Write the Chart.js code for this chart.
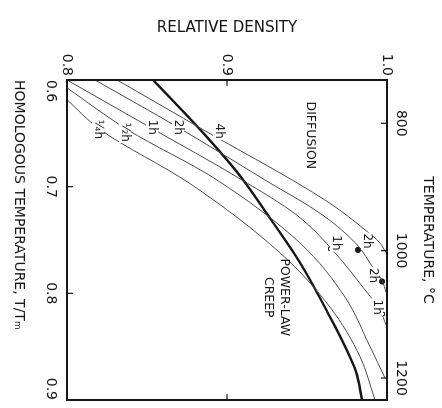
<!DOCTYPE html>
<html>
<head>
<meta charset="utf-8">
<script src="https://cdn.jsdelivr.net/npm/chart.js@4.4.1/dist/chart.umd.min.js"></script>
<style>
  html, body { margin: 0; padding: 0; background: #fff; overflow: hidden; }
  /* the figure is printed turned a quarter turn clockwise */
  #wrap {
    position: absolute; left: 0; top: 0;
    width: 408px; height: 442px;
    transform-origin: 0 0;
    transform: translateX(442px) rotate(90deg);
  }
</style>
</head>
<body>
<div id="wrap"><canvas id="chart" width="408" height="442"></canvas></div>
<script>
// axes
const homTicks = [0.6, 0.7, 0.8, 0.9];
const densityTicks = [0.8, 0.9, 1.0];
const tempTicks = [800, 1000, 1200];
const TM = 1675; // melting point, K

// diffusion curves (homologous temperature -> relative density)
const quarterT = [0.6185, 0.6463, 0.6972, 0.762, 0.813, 0.8593, 0.9];
const quarterD = [0.800, 0.8206, 0.8769, 0.9331, 0.9644, 0.9831, 0.9925];
const halfT = [0.6074, 0.6463, 0.6926, 0.7528, 0.8037, 0.85, 0.8796];
const halfD = [0.800, 0.8375, 0.8925, 0.9456, 0.9738, 0.9894, 0.9988];
const oneT = [0.600, 0.6444, 0.6926, 0.7269, 0.762, 0.7944, 0.8158, 0.8296];
const oneD = [0.800, 0.8519, 0.9081, 0.9438, 0.9675, 0.985, 0.9956, 0.9994];
const twoT = [0.600, 0.6444, 0.6926, 0.7269, 0.7546, 0.776, 0.788, 0.799];
const twoD = [0.8175, 0.8694, 0.9225, 0.960, 0.9813, 0.9913, 0.9969, 0.9994];
const fourT = [0.600, 0.626, 0.6556, 0.6926, 0.7176, 0.7389, 0.7528, 0.762];
const fourD = [0.8313, 0.8613, 0.8956, 0.9394, 0.9663, 0.985, 0.9956, 0.9994];

// power-law creep boundary
const creepT = [0.600, 0.6463, 0.6898, 0.7296, 0.7713, 0.8222, 0.850, 0.8732, 0.900];
const creepD = [0.8538, 0.8831, 0.9081, 0.9269, 0.9456, 0.9644, 0.9738, 0.9806, 0.9844];

// measured points
const pts2hT = [0.7593, 0.7889];
const pts2hD = [0.9819, 0.9969];
const pts1hT = [0.7583, 0.8194];
const pts1hD = [0.9644, 0.9975];

// text on the plot, placed in data units
const curveLabels = [
    { text: '¼h', t: 0.6463, d: 0.8194 },
    { text: '½h', t: 0.6490, d: 0.8363 },
    { text: '1h', t: 0.6444, d: 0.8531 },
    { text: '2h', t: 0.6444, d: 0.8694 },
    { text: '4h', t: 0.6480, d: 0.8950 },
    { text: '2h', t: 0.7510, d: 0.9875 },
    { text: '1h', t: 0.7528, d: 0.9681 },
    { text: '2h', t: 0.7833, d: 0.9913 },
    { text: '1h', t: 0.8130, d: 0.9938 }
];
const regionLabels = [
    { text: 'DIFFUSION', t: 0.6519, d: 0.9519 },
    { text: 'POWER-LAW', t: 0.8037, d: 0.9356 },
    { text: 'CREEP', t: 0.8037, d: 0.9256 }
];

const FONT = 'DejaVu Sans';
const INK = '#161616';

function toPoints(ts, ds) {
    return ts.map((t, i) => ({ x: t, y: ds[i] }));
}

function curve(ts, ds, width, color) {
    return {
        type: 'line',
        data: toPoints(ts, ds),
        borderColor: color,
        borderWidth: width,
        pointRadius: 0,
        fill: false,
        cubicInterpolationMode: 'monotone'
    };
}

// рамка, засечки внутрь и подписи на поле
const annot = {
    id: 'annot',
    afterDatasetsDraw(chart) {
        const { ctx, chartArea: a, scales } = chart;
        const sx = scales.x, sy = scales.y, st = scales.x2;
        ctx.save();

        ctx.textAlign = 'center';
        ctx.textBaseline = 'middle';
        ctx.font = '12px "' + FONT + '"';
        curveLabels.forEach(l => {
            const px = sx.getPixelForValue(l.t), py = sy.getPixelForValue(l.d);
            const w = ctx.measureText(l.text).width;
            ctx.fillStyle = '#fff';
            ctx.fillRect(px - w / 2 - 1, py - 6, w + 2, 12);
            ctx.fillStyle = INK;
            ctx.fillText(l.text, px, py);
        });

        ctx.font = '12.5px "' + FONT + '"';
        regionLabels.forEach(l => {
            ctx.fillStyle = INK;
            ctx.fillText(l.text, sx.getPixelForValue(l.t), sy.getPixelForValue(l.d));
        });

        ctx.strokeStyle = INK;
        ctx.lineWidth = 2;
        ctx.strokeRect(a.left, a.top, a.right - a.left, a.bottom - a.top);

        ctx.lineWidth = 1.2;
        const tick = (x1, y1, x2, y2) => {
            ctx.beginPath();
            ctx.moveTo(x1, y1);
            ctx.lineTo(x2, y2);
            ctx.stroke();
        };
        homTicks.slice(1, -1).forEach(v => {
            const px = sx.getPixelForValue(v);
            tick(px, a.bottom, px, a.bottom - 6);
        });
        densityTicks.slice(1, -1).forEach(v => {
            const py = sy.getPixelForValue(v);
            tick(a.left, py, a.left + 6, py);
            tick(a.right, py, a.right - 6, py);
        });
        tempTicks.forEach(v => {
            const px = st.getPixelForValue(v);
            tick(px, a.top, px, a.top + 6);
        });
        ctx.restore();
    }
};

const tickFont = { family: FONT, size: 14 };
const titleFont = { family: FONT, size: 14 };

new Chart(document.getElementById('chart'), {
    data: {
        datasets: [
            curve(quarterT, quarterD, 1, '#4a4a4a'),
            curve(halfT, halfD, 1, '#4a4a4a'),
            curve(oneT, oneD, 1, '#4a4a4a'),
            curve(twoT, twoD, 1, '#4a4a4a'),
            curve(fourT, fourD, 1, '#4a4a4a'),
            curve(creepT, creepD, 2.4, INK),
            {
                type: 'scatter',
                data: toPoints(pts2hT, pts2hD),
                pointStyle: 'circle',
                pointRadius: 2.6,
                backgroundColor: INK,
                borderColor: INK
            },
            {
                type: 'scatter',
                data: toPoints(pts1hT, pts1hD),
                pointStyle: 'rect',
                pointRadius: 2.2,
                borderWidth: 1,
                backgroundColor: '#fff',
                borderColor: INK
            }
        ]
    },
    options: {
        responsive: false,
        animation: false,
        layout: { padding: { right: 4 } },
        plugins: {
            legend: { display: false },
            tooltip: { enabled: false }
        },
        scales: {
            x: {
                type: 'linear',
                position: 'bottom',
                min: 0.6,
                max: 0.9,
                afterBuildTicks: s => { s.ticks = homTicks.map(v => ({ value: v })); },
                afterFit: s => { s.height = 67; },
                grid: { display: false, drawTicks: false },
                border: { display: false },
                ticks: {
                    align: 'inner',
                    padding: 8,
                    color: INK,
                    font: tickFont,
                    callback: v => v.toFixed(1)
                },
                title: {
                    display: true,
                    align: 'start',
                    text: 'HOMOLOGOUS TEMPERATURE, T/Tₘ',
                    color: INK,
                    font: titleFont,
                    padding: { top: 0, bottom: 10 }
                }
            },
            y: {
                type: 'linear',
                position: 'left',
                min: 0.8,
                max: 1.0,
                afterBuildTicks: s => { s.ticks = densityTicks.map(v => ({ value: v })); },
                afterFit: s => { s.width = 80; },
                grid: { display: false, drawTicks: false },
                border: { display: false },
                ticks: {
                    padding: 4,
                    color: INK,
                    font: tickFont,
                    callback: v => v.toFixed(1)
                },
                title: {
                    display: true,
                    text: 'RELATIVE DENSITY',
                    color: INK,
                    font: { family: FONT, size: 15 },
                    padding: { top: 19, bottom: 0 }
                }
            },
            x2: {
                type: 'linear',
                position: 'top',
                min: 0.6 * TM - 273,
                max: 0.9 * TM - 273,
                afterBuildTicks: s => { s.ticks = tempTicks.map(v => ({ value: v })); },
                afterFit: s => { s.height = 55; },
                grid: { display: false, drawTicks: false },
                border: { display: false },
                ticks: {
                    padding: 5,
                    color: INK,
                    font: tickFont,
                    callback: v => String(v)
                },
                title: {
                    display: true,
                    text: 'TEMPERATURE, °C',
                    color: INK,
                    font: titleFont,
                    padding: { top: 6, bottom: 0 }
                }
            }
        }
    },
    plugins: [annot]
});
</script>
</body>
</html>
